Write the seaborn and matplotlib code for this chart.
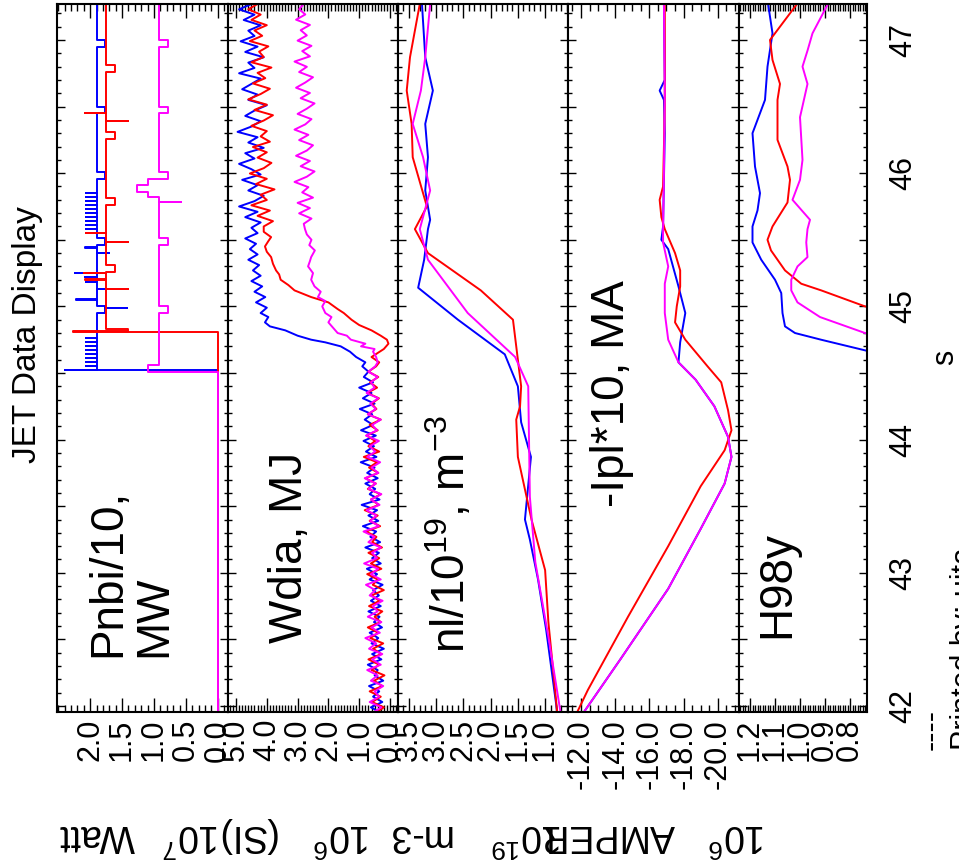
import numpy as np
import matplotlib
matplotlib.use("Agg")
import matplotlib.pyplot as plt
import seaborn as sns
from matplotlib.ticker import MultipleLocator

sns.set_theme(style="white")
plt.rcParams["font.family"] = ["Liberation Sans", "DejaVu Sans"]
plt.rcParams["mathtext.fontset"] = "custom"
plt.rcParams["mathtext.rm"] = "Liberation Sans"
plt.rcParams["mathtext.it"] = "Liberation Sans:italic"
plt.rcParams["mathtext.bf"] = "Liberation Sans:bold"
plt.rcParams["axes.unicode_minus"] = False

# ---------------- data ----------------
TIME_TICKS = [42.0, 42.5, 43.0, 43.5, 44.0, 44.5, 45.0, 45.5, 46.0, 46.5, 47.0]
TIME_LABELS = ["42", "", "43", "", "44", "", "45", "", "46", "", "47"]

# Panel 1: Pnbi/10, MW  (step signals, change points)
PN_B_T = [41.95, 44.52, 44.524, 44.55, 44.554, 44.58, 44.584, 44.61, 44.614, 44.64, 44.644,
          44.67, 44.674, 44.70, 44.704, 44.73, 44.734, 44.76, 44.764, 44.95, 44.985, 44.989,
          45.00, 45.05, 45.054, 45.13, 45.134, 45.18, 45.184, 45.22, 45.224, 45.25, 45.254,
          45.40, 45.404, 45.44, 45.444, 45.46, 45.51, 45.58, 45.584, 45.61, 45.614, 45.64,
          45.644, 45.67, 45.674, 45.70, 45.704, 45.73, 45.734, 45.76, 45.764, 45.79, 45.794,
          45.82, 45.824, 45.85, 45.854, 45.96, 46.01, 46.45, 46.50, 46.95, 47.00, 47.27]
PN_B_V = [0.0, 2.39, 1.89, 2.06, 1.89, 2.06, 1.89, 2.06, 1.89, 2.06, 1.89,
          2.06, 1.89, 2.06, 1.89, 2.06, 1.89, 2.06, 1.89, 1.77, 1.42, 1.77,
          1.89, 2.23, 1.89, 1.69, 1.89, 2.06, 1.89, 2.08, 1.89, 2.24, 1.89,
          1.71, 1.89, 2.08, 1.89, 1.77, 1.89, 2.06, 1.89, 2.06, 1.89, 2.06,
          1.89, 2.06, 1.89, 2.06, 1.89, 2.06, 1.89, 2.06, 1.89, 2.06, 1.89,
          2.06, 1.89, 2.06, 1.89, 1.77, 1.89, 1.77, 1.89, 1.77, 1.89, 1.89]
PN_R_T = [41.95, 44.81, 44.814, 44.83, 45.13, 45.134, 45.20, 45.204, 45.25, 45.254, 45.26,
          45.31, 45.48, 45.484, 45.55, 45.554, 45.76, 45.81, 46.26, 46.31, 46.39, 46.394,
          46.45, 46.454, 46.76, 46.81, 47.27]
PN_R_V = [0.0, 2.27, 1.40, 1.75, 1.41, 1.75, 2.08, 1.75, 2.10, 1.75, 1.61,
          1.75, 1.41, 1.75, 2.06, 1.75, 1.61, 1.75, 1.61, 1.75, 1.41, 1.75,
          2.08, 1.75, 1.61, 1.75, 1.75]
PN_M_T = [41.95, 44.51, 44.56, 44.95, 45.00, 45.46, 45.51, 45.78, 45.784, 45.82, 45.86,
          45.91, 45.96, 46.01, 46.45, 46.50, 46.95, 47.00, 47.27]
PN_M_V = [0.0, 1.09, 0.92, 0.78, 0.92, 0.78, 0.92, 0.58, 0.92, 1.09, 1.27,
          1.09, 0.78, 0.92, 0.78, 0.92, 0.78, 0.92, 0.92]

# Panel 2: Wdia, MJ
WD_B_PRE = [0.30, 0.62, 0.25, 0.55, 0.35, 0.68, 0.22, 0.50, 0.40, 0.72, 0.28, 0.58, 0.20, 0.60,
            0.38, 0.66, 0.26, 0.52, 0.34, 0.70, 0.30, 0.62, 0.36, 0.55, 0.24, 0.66, 0.42, 0.75,
            0.30, 0.58, 0.36, 0.80, 0.32, 0.64, 0.45, 0.88, 0.38, 0.70, 0.42, 0.92, 0.34, 0.66,
            0.48, 0.80, 0.40, 0.74, 0.50, 0.95, 0.44, 0.78, 0.52, 0.86, 0.46, 0.94, 0.55, 0.82,
            0.58, 0.98, 0.50, 0.88, 0.60, 1.00, 0.55, 0.85, 0.70, 0.90]
WD_R_PRE = [0.45, 0.20, 0.58, 0.30, 0.66, 0.25, 0.52, 0.18, 0.60, 0.35, 0.70, 0.28, 0.55, 0.22,
            0.64, 0.38, 0.72, 0.30, 0.50, 0.25, 0.68, 0.34, 0.60, 0.20, 0.56, 0.40, 0.74, 0.28,
            0.62, 0.35, 0.70, 0.26, 0.58, 0.44, 0.78, 0.32, 0.66, 0.40, 0.82, 0.36, 0.62, 0.30,
            0.72, 0.46, 0.80, 0.38, 0.68, 0.42, 0.85, 0.35, 0.70, 0.48, 0.76, 0.40, 0.66, 0.30,
            0.72, 0.44, 0.60, 0.36, 0.74, 0.42, 0.65, 0.38, 0.70, 0.45]
WD_M_PRE = [0.55, 0.28, 0.66, 0.35, 0.50, 0.22, 0.62, 0.40, 0.74, 0.30, 0.58, 0.25, 0.68, 0.45,
            0.80, 0.33, 0.60, 0.28, 0.72, 0.40, 0.56, 0.24, 0.66, 0.48, 0.78, 0.30, 0.62, 0.38,
            0.84, 0.42, 0.58, 0.30, 0.70, 0.50, 0.86, 0.36, 0.64, 0.44, 0.76, 0.34, 0.62, 0.28,
            0.70, 0.46, 0.82, 0.38, 0.60, 0.32, 0.74, 0.48, 0.66, 0.36, 0.78, 0.42, 0.58, 0.30,
            0.72, 0.46, 0.64, 0.38, 0.76, 0.50, 0.62, 0.40, 0.70, 0.48]
WD_B_T2 = [44.58, 44.62, 44.66, 44.70, 44.73, 44.75, 44.78, 44.82, 44.85, 44.88, 44.92, 44.95,
           44.99, 45.03, 45.07, 45.11, 45.15, 45.19, 45.23, 45.27, 45.31, 45.35, 45.39, 45.43,
           45.47, 45.51, 45.55]
WD_B_V2 = [0.80, 1.10, 1.30, 1.60, 2.10, 2.56, 3.00, 3.40, 3.90, 4.06, 3.95, 4.20,
           4.00, 4.35, 4.05, 4.40, 4.15, 4.50, 4.20, 4.45, 4.25, 4.60, 4.30, 4.55,
           4.35, 4.70, 4.30]
WD_R_T2 = [44.58, 44.62, 44.65, 44.68, 44.72, 44.75, 44.78, 44.82, 44.86, 44.90, 44.95, 44.98,
           45.03, 45.07, 45.12, 45.16, 45.20, 45.24, 45.27, 45.32, 45.37, 45.41, 45.45, 45.49,
           45.52, 45.56]
WD_R_V2 = [0.35, 0.60, 0.40, 0.20, 0.05, 0.10, 0.30, 0.60, 1.00, 1.25, 1.50, 1.70,
           2.00, 2.56, 3.10, 3.30, 3.55, 3.60, 3.70, 3.80, 3.86, 4.00, 4.06, 3.95,
           3.86, 4.10]
WD_M_T2 = [44.58, 44.62, 44.66, 44.68, 44.70, 44.72, 44.75, 44.78, 44.80, 44.84, 44.88, 44.92,
           44.95, 45.00, 45.04, 45.07, 45.11, 45.15, 45.20, 45.25, 45.30, 45.34, 45.37, 45.42,
           45.46, 45.50, 45.54, 45.58]
WD_M_V2 = [0.40, 0.45, 0.55, 0.50, 0.94, 0.80, 1.27, 1.40, 1.70, 1.85, 2.00, 1.90,
           2.10, 2.20, 2.10, 2.34, 2.25, 2.45, 2.56, 2.50, 2.66, 2.60, 2.56, 2.44,
           2.62, 2.55, 2.70, 2.76]
WD_B_TOP = [4.5, 4.2, 4.7, 4.3, 4.9, 4.4, 4.1, 4.6, 4.3, 4.8, 4.2, 4.5, 4.9, 4.4, 4.7, 4.1,
            4.6, 4.3, 4.95, 4.5, 4.2, 4.7, 4.4, 4.0, 4.6, 4.3, 4.8, 4.5, 4.2, 4.9, 4.4, 4.6,
            4.1, 4.7, 4.3, 4.85, 4.4, 4.6, 4.2, 4.75, 4.4, 4.9, 4.5]
WD_R_TOP = [4.1, 3.8, 4.3, 3.9, 4.5, 4.0, 4.2, 3.75, 4.35, 4.0, 4.55, 4.1, 3.85, 4.3, 4.0,
            4.45, 3.9, 4.2, 4.0, 4.5, 4.1, 3.8, 4.4, 4.0, 4.6, 4.2, 3.9, 4.45, 4.05, 4.3,
            3.85, 4.5, 4.1, 4.25, 3.95, 4.55, 4.15, 4.4, 4.0, 4.5, 4.2, 4.6, 4.3]
WD_M_TOP = [2.8, 2.55, 2.95, 2.6, 3.0, 2.5, 2.85, 2.65, 3.1, 2.7, 2.45, 2.9, 2.6, 3.05, 2.7,
            2.5, 2.95, 2.65, 3.1, 2.75, 2.55, 3.0, 2.7, 2.45, 2.9, 2.6, 3.05, 2.75, 2.5, 2.95,
            2.7, 3.1, 2.6, 2.85, 2.55, 3.0, 2.7, 2.9, 2.6, 3.05, 2.75, 2.95, 2.8]

# Panel 3: nl/1e19, m^-3
NL_B_T = [41.96, 42.57, 42.95, 43.25, 43.40, 43.87, 44.13, 44.40, 44.64, 44.90, 45.14, 45.35,
          45.58, 45.65, 45.87, 46.12, 46.37, 46.62, 46.87, 47.27]
NL_B_V = [0.78, 0.98, 1.13, 1.28, 1.37, 1.26, 1.44, 1.50, 1.74, 2.60, 3.33, 3.22,
          3.15, 3.11, 3.20, 3.15, 3.20, 3.06, 3.20, 3.26]
NL_R_T = [41.96, 42.30, 42.63, 43.02, 43.40, 43.87, 44.15, 44.25, 44.40, 44.90, 45.12, 45.40,
          45.58, 45.75, 46.12, 46.37, 46.62, 46.87, 47.27]
NL_R_V = [0.78, 0.86, 0.94, 1.00, 1.25, 1.50, 1.53, 1.46, 1.44, 1.59, 2.18, 3.15,
          3.39, 3.17, 3.43, 3.45, 3.54, 3.48, 3.30]
NL_M_T = [41.96, 42.52, 43.08, 43.57, 44.40, 44.62, 44.95, 45.35, 45.58, 45.87, 46.12, 46.37,
          46.62, 46.87, 47.27]
NL_M_V = [0.72, 0.94, 1.18, 1.28, 1.31, 1.55, 2.42, 3.15, 3.30, 3.11, 3.24, 3.43,
          3.28, 3.20, 3.11]

# Panel 4: -Ipl*10, MA
IP_B_T = [41.96, 42.35, 42.88, 43.33, 43.67, 43.87, 44.02, 44.25, 44.45, 44.58, 44.73, 44.95,
          45.15, 45.43, 45.50, 45.60, 46.30, 46.55, 46.62, 46.70, 47.27]
IP_B_V = [-12.2, -14.3, -17.1, -19.0, -20.4, -20.8, -20.6, -19.8, -18.7, -17.7, -17.8, -18.1,
          -17.7, -17.1, -16.7, -16.8, -16.9, -16.85, -16.6, -16.9, -16.85]
IP_R_T = [41.96, 42.12, 42.67, 43.20, 43.65, 43.92, 44.07, 44.22, 44.43, 44.55, 44.75, 44.88,
          45.00, 45.15, 45.27, 45.40, 45.58, 45.67, 45.80, 45.90, 46.50, 47.27]
IP_R_V = [-11.8, -12.4, -14.75, -17.1, -19.0, -20.4, -20.8, -20.6, -20.2, -19.4, -18.1, -17.5,
          -17.6, -17.8, -17.8, -17.5, -16.9, -16.7, -16.6, -16.8, -16.9, -16.9]
IP_M_T = [41.96, 42.35, 42.88, 43.33, 43.67, 43.87, 44.02, 44.25, 44.45, 44.58, 44.75, 44.95,
          45.17, 45.30, 45.48, 45.58, 46.00, 46.60, 47.27]
IP_M_V = [-12.2, -14.3, -17.1, -19.0, -20.4, -20.8, -20.6, -19.8, -18.7, -17.7, -17.1, -16.9,
          -16.9, -17.1, -16.8, -16.8, -16.85, -16.9, -16.85]

# Panel 5: H98y
H_B_T = [44.56, 44.67, 44.75, 44.80, 44.85, 44.95, 45.10, 45.20, 45.35, 45.48, 45.60, 45.72,
         45.85, 46.05, 46.30, 46.40, 46.55, 46.80, 47.05, 47.30]
H_B_V = [0.50, 0.74, 0.916, 1.02, 1.06, 1.07, 1.075, 1.10, 1.155, 1.19, 1.19, 1.17,
         1.16, 1.18, 1.19, 1.17, 1.14, 1.13, 1.11, 1.13]
H_R_T = [44.90, 45.00, 45.12, 45.17, 45.27, 45.42, 45.50, 45.60, 45.78, 45.95, 46.05, 46.25,
         46.55, 46.67, 46.85, 47.00, 47.10, 47.30]
H_R_V = [0.50, 0.74, 0.915, 0.995, 1.06, 1.116, 1.13, 1.11, 1.05, 1.04, 1.05, 1.09,
         1.09, 1.08, 1.11, 1.12, 1.08, 1.00]
H_M_T = [44.72, 44.80, 44.92, 45.03, 45.12, 45.20, 45.30, 45.37, 45.48, 45.58, 45.65, 45.80,
         45.95, 46.10, 46.42, 46.67, 46.80, 46.92, 47.05, 47.30]
H_M_V = [0.50, 0.74, 0.92, 1.01, 1.035, 1.035, 1.01, 0.97, 0.975, 0.97, 0.96, 1.03,
         1.00, 0.99, 1.00, 0.97, 0.99, 0.97, 0.95, 0.88]

P1_TICKS, P1_LABELS = [2.0, 1.5, 1.0, 0.5, 0.0], ["2.0", "1.5", "1.0", "0.5", "0.0"]
P2_TICKS, P2_LABELS = [5, 4, 3, 2, 1, 0], ["5.0", "4.0", "3.0", "2.0", "1.0", "0.0"]
P3_TICKS, P3_LABELS = [3.5, 3.0, 2.5, 2.0, 1.5, 1.0], ["3.5", "3.0", "2.5", "2.0", "1.5", "1.0"]
P4_TICKS, P4_LABELS = [-12, -14, -16, -18, -20], ["-12.0", "-14.0", "-16.0", "-18.0", "-20.0"]
P5_TICKS, P5_LABELS = [1.2, 1.1, 1.0, 0.9, 0.8], ["1.2", "1.1", "1.0", "0.9", "0.8"]

PANEL_LABELS = ["Pnbi/10,\nMW", "Wdia, MJ", "nl/10$^{19}$, m$^{-3}$", "-Ipl*10, MA", "H98y"]
UNIT_CHUNKS = ["Watt", "10$^7$", "(SI)", "10$^6$", "m-3", "10$^{19}$", "AMPER", "10$^6$"]

# ---------------- figure ----------------
W, H = 959.0, 868.0
AX_TOP, AX_BOT = 4, 712
T_LIM = (41.955, 47.27)
COL = {"b": "#0000ff", "r": "#ff0000", "m": "#ff00ff"}

fig = plt.figure(figsize=(9.59, 8.68), dpi=100)
fig.patch.set_facecolor("white")


def wd_series(pre, t2, v2, top_start, top):
    t = np.concatenate([np.linspace(41.95, 44.55, len(pre)), t2,
                        np.linspace(top_start, 47.27, len(top))])
    v = np.concatenate([pre, v2, top])
    return t, v


wb = wd_series(WD_B_PRE, WD_B_T2, WD_B_V2, 45.59, WD_B_TOP)
wr = wd_series(WD_R_PRE, WD_R_T2, WD_R_V2, 45.60, WD_R_TOP)
wm = wd_series(WD_M_PRE, WD_M_T2, WD_M_V2, 45.62, WD_M_TOP)

specs = [
    dict(x=(57, 228), xlim=(2.52, -0.16), ticks=P1_TICKS, labels=P1_LABELS, minor=0.1,
         series=[(PN_B_T, PN_B_V, "b"), (PN_R_T, PN_R_V, "r"), (PN_M_T, PN_M_V, "m")],
         steps=True, lab=(0.17, 0.078)),
    dict(x=(228, 398), xlim=(5.26, -0.26), ticks=P2_TICKS, labels=P2_LABELS, minor=0.1,
         series=[(wb[0], wb[1], "b"), (wr[0], wr[1], "r"), (wm[0], wm[1], "m")],
         steps=False, lab=(0.235, 0.097)),
    dict(x=(398, 568), xlim=(3.70, 0.58), ticks=P3_TICKS, labels=P3_LABELS, minor=0.1,
         series=[(NL_B_T, NL_B_V, "b"), (NL_R_T, NL_R_V, "r"), (NL_M_T, NL_M_V, "m")],
         steps=False, lab=(0.16, 0.083)),
    dict(x=(568, 739), xlim=(-11.24, -21.24), ticks=P4_TICKS, labels=P4_LABELS, minor=0.5,
         series=[(IP_B_T, IP_B_V, "b"), (IP_R_T, IP_R_V, "r"), (IP_M_T, IP_M_V, "m")],
         steps=False, lab=(0.13, 0.29)),
    dict(x=(739, 867), xlim=(1.244, 0.732), ticks=P5_TICKS, labels=P5_LABELS, minor=0.01,
         series=[(H_B_T, H_B_V, "b"), (H_R_T, H_R_V, "r"), (H_M_T, H_M_V, "m")],
         steps=False, lab=(0.125, 0.105)),
]

for i, sp in enumerate(specs):
    x0, x1 = sp["x"]
    ax = fig.add_axes([x0 / W, 1 - AX_BOT / H, (x1 - x0) / W, (AX_BOT - AX_TOP) / H])
    ax.set_facecolor("white")
    extra = {"drawstyle": "steps-pre"} if sp["steps"] else {}
    for t, v, c in sp["series"]:
        sns.lineplot(x=list(v), y=list(t), ax=ax, color=COL[c], lw=1.4, sort=False,
                     estimator=None, orient="y", **extra)
    ax.set_xlim(*sp["xlim"])
    ax.set_ylim(*T_LIM)
    ax.set_xticks(sp["ticks"], sp["labels"])
    ax.xaxis.set_minor_locator(MultipleLocator(sp["minor"]))
    last = i == len(specs) - 1
    ax.set_yticks(TIME_TICKS, TIME_LABELS if last else [""] * len(TIME_TICKS))
    ax.yaxis.set_minor_locator(MultipleLocator(0.1))
    ax.tick_params(axis="x", which="both", direction="in", top=True, bottom=True,
                   labelbottom=True, labeltop=False, color="black", width=1.0)
    ax.tick_params(axis="x", which="major", length=10, labelsize=22, labelrotation=90, pad=5,
                   labelcolor="black")
    ax.tick_params(axis="x", which="minor", length=5)
    ax.tick_params(axis="y", which="both", direction="in", left=True, right=True,
                   labelleft=False, labelright=last, color="black", width=1.0)
    ax.tick_params(axis="y", which="major", length=6, labelsize=22, labelrotation=90, pad=15,
                   labelcolor="black")
    ax.tick_params(axis="y", which="minor", length=3)
    if last:
        for lab in ax.get_yticklabels():
            lab.set_va("center")
    for s in ax.spines.values():
        s.set_visible(True)
        s.set_color("black")
        s.set_linewidth(1.5)
    ax.grid(False)
    ax.set_xlabel("")
    ax.set_ylabel("")
    ax.text(sp["lab"][0], sp["lab"][1], PANEL_LABELS[i], transform=ax.transAxes,
            rotation=90, ha="left", va="bottom", fontsize=33, linespacing=1.05,
            color="black")

# title
fig.text(28 / W, 1 - 335 / H, "JET Data Display", rotation=90, ha="center", va="center",
         fontsize=24, color="black")
# upside-down unit labels (original y-axis labels)
UNIT_X = [97, 191, 245, 342, 418, 527, 608, 737]
for txt, cx in zip(UNIT_CHUNKS, UNIT_X):
    fig.text(cx / W, 1 - 835 / H, txt, rotation=180, ha="center", va="center",
             fontsize=27, color="black")
# time axis label
fig.text(945 / W, 1 - 357 / H, "s", rotation=90, ha="center", va="center", fontsize=22,
         color="black")
# footer (clipped at right edge, as in the original display)
fig.text(950 / W, 1 - 750 / H, "Printed by: uita", rotation=90, ha="left", va="bottom",
         fontsize=22, color="black")
fig.text(932 / W, 1 - 730 / H, "----", rotation=90, ha="center", va="center", fontsize=22,
         color="black")

fig.savefig("out.png", dpi=100, facecolor="white")
